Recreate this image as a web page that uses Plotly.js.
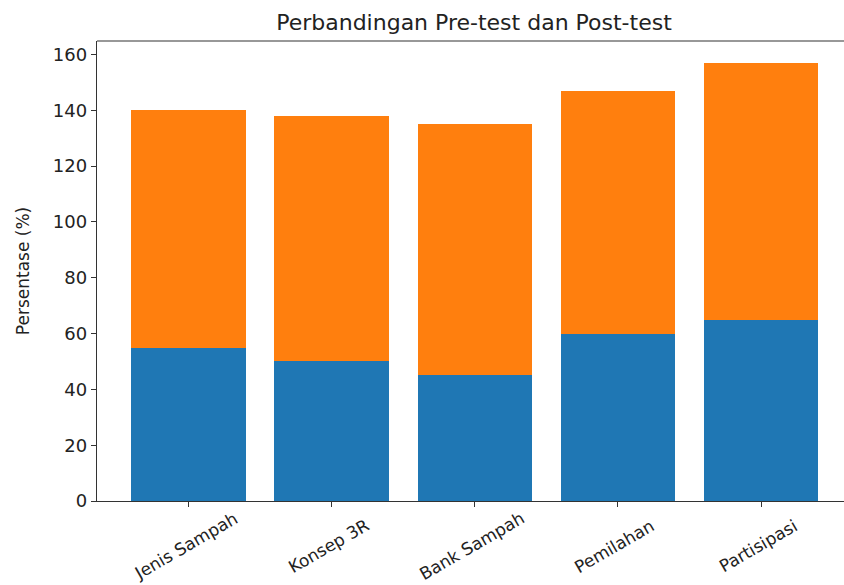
<!DOCTYPE html>
<html>
<head>
<meta charset="utf-8">
<script src="https://cdn.plot.ly/plotly-3.0.1.min.js"></script>
<style>html,body{margin:0;padding:0;background:#fff;}#chart{width:844px;height:585px;}</style>
</head>
<body>
<div id="chart"></div>
<script>
const categories = ["Jenis Sampah", "Konsep 3R", "Bank Sampah", "Pemilahan", "Partisipasi"];
const preTest = [55, 50, 45, 60, 65];
const postTest = [85, 88, 90, 87, 92];
const yTicks = [0, 20, 40, 60, 80, 100, 120, 140, 160];

const xIdx = categories.map((c, i) => i);
const font = "DejaVu Sans, sans-serif";

const traces = [
  {type: "bar", name: "Pre-test", x: xIdx, y: preTest, width: 0.8,
   marker: {color: "#1f77b4"}, hoverinfo: "y"},
  {type: "bar", name: "Post-test", x: xIdx, y: postTest, width: 0.8,
   marker: {color: "#ff7f0e"}, hoverinfo: "y"}
];

const annotations = categories.map((c, i) => ({
  x: i, y: 0, xref: "x", yref: "paper", text: c, showarrow: false,
  textangle: -30, xanchor: "center", yanchor: "middle", yshift: -45, xshift: -3,
  font: {family: font, size: 17, color: "#222"}
}));

const layout = {
  width: 844, height: 585,
  margin: {l: 97, r: 0, t: 41, b: 84},
  paper_bgcolor: "#fff", plot_bgcolor: "#fff",
  barmode: "stack",
  showlegend: false,
  title: {text: "Perbandingan Pre-test dan Post-test", x: 474 / 844, xanchor: "center",
          y: 1 - 22 / 585, yanchor: "middle", font: {family: font, size: 22, color: "#222"}},
  xaxis: {range: [-0.64, 4.58], tickmode: "array", tickvals: xIdx, showticklabels: false,
          ticks: "outside", ticklen: 5, tickcolor: "#333", showgrid: false, zeroline: false,
          showline: true, linecolor: "#333", linewidth: 1.2},
  yaxis: {range: [0, 164.85], tickmode: "array", tickvals: yTicks, ticks: "outside", ticklen: 5,
          tickcolor: "#333", showgrid: false, zeroline: false, showline: true, linecolor: "#333",
          linewidth: 1.2, tickfont: {family: font, size: 18, color: "#222"},
          title: {text: "Persentase (%)", standoff: 18, font: {family: font, size: 17, color: "#222"}}},
  shapes: [{type: "line", xref: "paper", yref: "paper", x0: 0, x1: 1, y0: 1, y1: 1,
            line: {color: "#333", width: 1.2}}],
  annotations: annotations
};

Plotly.newPlot("chart", traces, layout, {displayModeBar: false, staticPlot: true});
</script>
</body>
</html>
